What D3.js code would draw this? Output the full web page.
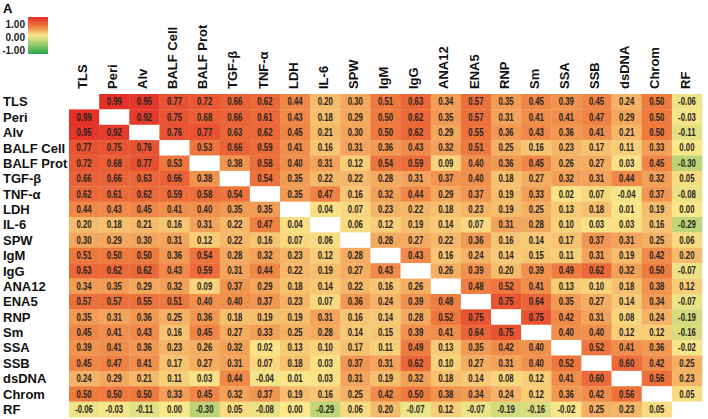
<!DOCTYPE html>
<html>
<head>
<meta charset="utf-8">
<script src="https://cdn.jsdelivr.net/npm/d3@7"></script>
<style>
  html, body { margin: 0; padding: 0; background: #fff; }
  svg { display: block; }
</style>
</head>
<body>
<svg id="chart" width="708" height="419"></svg>
<script>
// ---- data ----
const variables = ["TLS","Peri","Alv","BALF Cell","BALF Prot","TGF-β","TNF-α","LDH","IL-6","SPW","IgM","IgG","ANA12","ENA5","RNP","Sm","SSA","SSB","dsDNA","Chrom","RF"];
const rowTLS      = [null,0.99,0.95,0.77,0.72,0.66,0.62,0.44,0.20,0.30,0.51,0.63,0.34,0.57,0.35,0.45,0.39,0.45,0.24,0.50,-0.06];
const rowPeri     = [0.99,null,0.92,0.75,0.68,0.66,0.61,0.43,0.18,0.29,0.50,0.62,0.35,0.57,0.31,0.41,0.41,0.47,0.29,0.50,-0.03];
const rowAlv      = [0.95,0.92,null,0.76,0.77,0.63,0.62,0.45,0.21,0.30,0.50,0.62,0.29,0.55,0.36,0.43,0.36,0.41,0.21,0.50,-0.11];
const rowBALFCell = [0.77,0.75,0.76,null,0.53,0.66,0.59,0.41,0.16,0.31,0.36,0.43,0.32,0.51,0.25,0.16,0.23,0.17,0.11,0.33,0.00];
const rowBALFProt = [0.72,0.68,0.77,0.53,null,0.38,0.58,0.40,0.31,0.12,0.54,0.59,0.09,0.40,0.36,0.45,0.26,0.27,0.03,0.45,-0.30];
const rowTGFb     = [0.66,0.66,0.63,0.66,0.38,null,0.54,0.35,0.22,0.22,0.28,0.31,0.37,0.40,0.18,0.27,0.32,0.31,0.44,0.32,0.05];
const rowTNFa     = [0.62,0.61,0.62,0.59,0.58,0.54,null,0.35,0.47,0.16,0.32,0.44,0.29,0.37,0.19,0.33,0.02,0.07,-0.04,0.37,-0.08];
const rowLDH      = [0.44,0.43,0.45,0.41,0.40,0.35,0.35,null,0.04,0.07,0.23,0.22,0.18,0.23,0.19,0.25,0.13,0.18,0.01,0.19,0.00];
const rowIL6      = [0.20,0.18,0.21,0.16,0.31,0.22,0.47,0.04,null,0.06,0.12,0.19,0.14,0.07,0.31,0.28,0.10,0.03,0.03,0.16,-0.29];
const rowSPW      = [0.30,0.29,0.30,0.31,0.12,0.22,0.16,0.07,0.06,null,0.28,0.27,0.22,0.36,0.16,0.14,0.17,0.37,0.31,0.25,0.06];
const rowIgM      = [0.51,0.50,0.50,0.36,0.54,0.28,0.32,0.23,0.12,0.28,null,0.43,0.16,0.24,0.14,0.15,0.11,0.31,0.19,0.42,0.20];
const rowIgG      = [0.63,0.62,0.62,0.43,0.59,0.31,0.44,0.22,0.19,0.27,0.43,null,0.26,0.39,0.20,0.39,0.49,0.62,0.32,0.50,-0.07];
const rowANA12    = [0.34,0.35,0.29,0.32,0.09,0.37,0.29,0.18,0.14,0.22,0.16,0.26,null,0.48,0.52,0.41,0.13,0.10,0.18,0.38,0.12];
const rowENA5     = [0.57,0.57,0.55,0.51,0.40,0.40,0.37,0.23,0.07,0.36,0.24,0.39,0.48,null,0.75,0.64,0.35,0.27,0.14,0.34,-0.07];
const rowRNP      = [0.35,0.31,0.36,0.25,0.36,0.18,0.19,0.19,0.31,0.16,0.14,0.28,0.52,0.75,null,0.75,0.42,0.31,0.08,0.24,-0.19];
const rowSm       = [0.45,0.41,0.43,0.16,0.45,0.27,0.33,0.25,0.28,0.14,0.15,0.39,0.41,0.64,0.75,null,0.40,0.40,0.12,0.12,-0.16];
const rowSSA      = [0.39,0.41,0.36,0.23,0.26,0.32,0.02,0.13,0.10,0.17,0.11,0.49,0.13,0.35,0.42,0.40,null,0.52,0.41,0.36,-0.02];
const rowSSB      = [0.45,0.47,0.41,0.17,0.27,0.31,0.07,0.18,0.03,0.37,0.31,0.62,0.10,0.27,0.31,0.40,0.52,null,0.60,0.42,0.25];
const rowdsDNA    = [0.24,0.29,0.21,0.11,0.03,0.44,-0.04,0.01,0.03,0.31,0.19,0.32,0.18,0.14,0.08,0.12,0.41,0.60,null,0.56,0.23];
const rowChrom    = [0.50,0.50,0.50,0.33,0.45,0.32,0.37,0.19,0.16,0.25,0.42,0.50,0.38,0.34,0.24,0.12,0.36,0.42,0.56,null,0.05];
const rowRF       = [-0.06,-0.03,-0.11,0.00,-0.30,0.05,-0.08,0.00,-0.29,0.06,0.20,-0.07,0.12,-0.07,-0.19,-0.16,-0.02,0.25,0.23,0.05,null];
const legendTicks = [1, 0, -1];
const panelLabel = "A";

const rows = [rowTLS,rowPeri,rowAlv,rowBALFCell,rowBALFProt,rowTGFb,rowTNFa,rowLDH,rowIL6,rowSPW,rowIgM,rowIgG,rowANA12,rowENA5,rowRNP,rowSm,rowSSA,rowSSB,rowdsDNA,rowChrom,rowRF];

// ---- layout ----
const svg = d3.select("#chart");
const x = d3.scaleBand().domain(variables).range([69, 702]);
const y = d3.scaleBand().domain(variables).range([94, 417]);
const color = d3.scaleLinear()
  .domain([-1, 0, 0.5, 1])
  .range(["#2aa84c", "#fae78a", "#ee7a3e", "#e32f28"]);

const cells = [];
rows.forEach((r, i) => r.forEach((v, j) => cells.push({row: variables[i], col: variables[j], v})));

const g = svg.append("g");
g.selectAll("rect.cell").data(cells).join("rect")
  .attr("class", "cell")
  .attr("x", d => x(d.col))
  .attr("y", d => y(d.row))
  .attr("width", x.bandwidth() + 0.3)
  .attr("height", y.bandwidth() + 0.3)
  .attr("fill", d => d.v === null ? "#ffffff" : color(d.v));

g.selectAll("text.val").data(cells.filter(d => d.v !== null)).join("text")
  .attr("class", "val")
  .attr("transform", d => `translate(${x(d.col) + x.bandwidth() / 2},${y(d.row) + y.bandwidth() / 2}) scale(0.78,1)`)
  .attr("dy", "0.36em")
  .attr("text-anchor", "middle")
  .style("font-family", "'Liberation Sans',Arial,sans-serif")
  .style("font-weight", "bold")
  .style("font-size", "10px")
  .attr("fill", "#2a2320")
  .text(d => d.v.toFixed(2));

// row labels
svg.selectAll("text.rowlab").data(variables).join("text")
  .attr("class", "rowlab")
  .attr("x", 3)
  .attr("y", d => y(d) + y.bandwidth() / 2)
  .attr("dy", "0.36em")
  .style("font-family", "'Liberation Sans',Arial,sans-serif")
  .style("font-weight", "bold")
  .style("font-size", "13px")
  .attr("fill", "#111")
  .text(d => d);

// column labels
svg.selectAll("text.collab").data(variables).join("text")
  .attr("class", "collab")
  .attr("transform", d => `translate(${x(d) + x.bandwidth() / 2 - 2},89) rotate(-90)`)
  .attr("dy", "0.36em")
  .style("font-family", "'Liberation Sans',Arial,sans-serif")
  .style("font-weight", "bold")
  .style("font-size", "13px")
  .attr("fill", "#111")
  .text(d => d);

// panel label
svg.append("text")
  .attr("x", 3).attr("y", 13)
  .style("font-family", "'Liberation Sans',Arial,sans-serif")
  .style("font-weight", "bold").style("font-size", "13px")
  .text(panelLabel);

// legend
const defs = svg.append("defs");
const grad = defs.append("linearGradient").attr("id", "lg")
  .attr("x1", 0).attr("y1", 0).attr("x2", 0).attr("y2", 1);
d3.range(0, 1.0001, 0.05).forEach(t => {
  grad.append("stop").attr("offset", t).attr("stop-color", color(1 - 2 * t));
});
svg.append("rect").attr("x", 28).attr("y", 17).attr("width", 20).attr("height", 37)
  .attr("fill", "url(#lg)");
const ly = d3.scaleLinear().domain([1, -1]).range([24, 50]);
svg.selectAll("text.leg").data(legendTicks).join("text")
  .attr("class", "leg")
  .attr("x", 25)
  .attr("y", d => ly(d))
  .attr("dy", "0.36em")
  .attr("text-anchor", "end")
  .style("font-family", "'Liberation Sans',Arial,sans-serif")
  .style("font-weight", "bold").style("font-size", "10px")
  .attr("fill", "#222")
  .text(d => d.toFixed(2));
</script>
</body>
</html>
